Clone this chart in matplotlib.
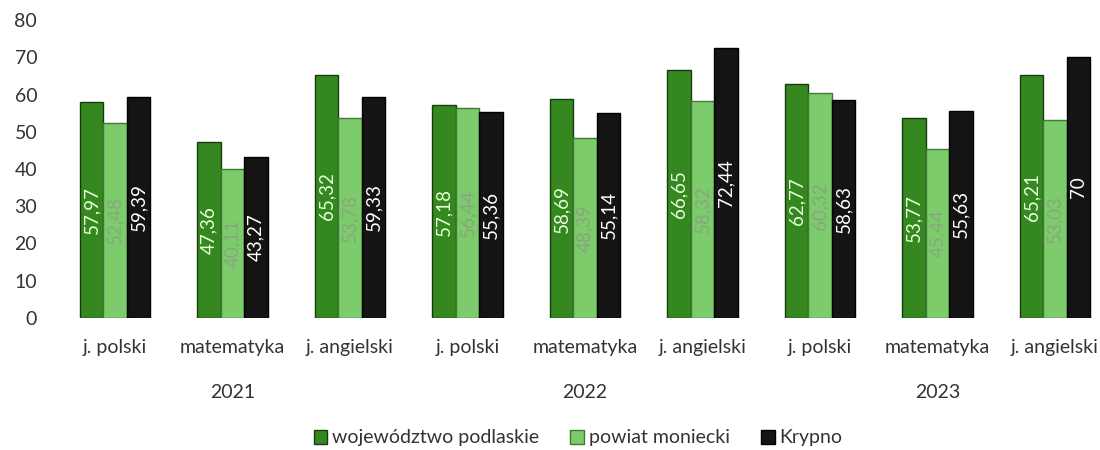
import matplotlib
matplotlib.use("Agg")
import matplotlib.pyplot as plt
from matplotlib.patches import Patch
from matplotlib.transforms import blended_transform_factory
import numpy as np

plt.rcParams['font.family'] = ['Lato', 'DejaVu Sans']

subjects = ["j. polski", "matematyka", "j. angielski"] * 3
years = ["2021", "2022", "2023"]
series_names = ["województwo podlaskie", "powiat moniecki", "Krypno"]

podlaskie = [57.97, 47.36, 65.32, 57.18, 58.69, 66.65, 62.77, 53.77, 65.21]
moniecki = [52.48, 40.11, 53.78, 56.44, 48.39, 58.32, 60.32, 45.44, 53.03]
krypno = [59.39, 43.27, 59.33, 55.36, 55.14, 72.44, 58.63, 55.63, 70.00]

fills = ["#35871f", "#7ccc6c", "#141414"]
edges = ["#173d0e", "#3f7a35", "#000000"]
label_colors = ["#e6ffd9", "#8aa57f", "#ffffff"]

fig = plt.figure(figsize=(11, 4.5), dpi=100)
ax = fig.add_axes([65 / 1100, (450 - 318) / 450, (1095 - 65) / 1100, (318 - 20) / 450])

x = np.arange(len(subjects))
w = 0.2
for i, vals in enumerate([podlaskie, moniecki, krypno]):
    pos = x + (i - 1) * w
    ax.bar(pos, vals, width=w, color=fills[i], edgecolor=edges[i], linewidth=1.0)
    for p, v in zip(pos, vals):
        txt = f"{v:.2f}".replace(".", ",")
        if txt.endswith(",00"):
            txt = txt[:-3]
        ax.text(p, v / 2, txt, rotation=90, ha="center", va="center",
                fontsize=13.5, color=label_colors[i])

step = 117.5
x0 = 115
ax.set_xlim((65 - x0) / step, (1095 - x0) / step)
ax.set_ylim(0, 80)
ax.set_yticks(np.arange(0, 81, 10))
ax.tick_params(axis="y", length=0, pad=20, labelsize=14, labelcolor="#333333")
ax.set_xticks([])
for s in ax.spines.values():
    s.set_visible(False)

tr = blended_transform_factory(ax.transData, fig.transFigure)
for xi, lab in zip(x, subjects):
    ax.text(xi, (450 - 348) / 450, lab, transform=tr, ha="center", va="center",
            fontsize=14, color="#333333")
for gi, yr in enumerate(years):
    ax.text(3 * gi + 1, (450 - 392) / 450, yr, transform=tr, ha="center", va="center",
            fontsize=14, color="#333333")

handles = [Patch(facecolor=fills[i], edgecolor=edges[i], label=series_names[i]) for i in range(3)]
fig.legend(handles=handles, loc="center", bbox_to_anchor=(578 / 1100, (450 - 438) / 450),
           ncol=3, frameon=False, fontsize=14, handlelength=0.7, handleheight=0.7,
           handletextpad=0.25, columnspacing=1.6, labelcolor="#333333")

fig.savefig("out.png", dpi=100)
